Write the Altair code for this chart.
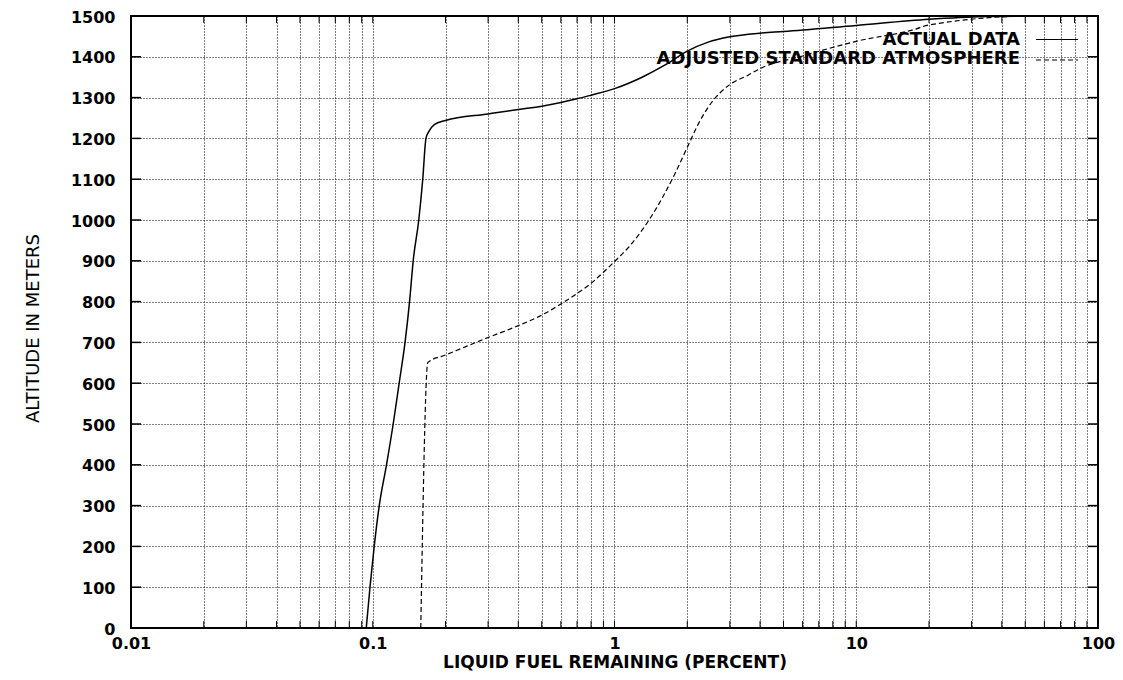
import altair as alt
import pandas as pd

# ---- data ----
actual_x = [0.094, 0.0974, 0.1014, 0.1064, 0.114, 0.1215, 0.1286, 0.136, 0.142, 0.147,
            0.155, 0.161, 0.166, 0.1703, 0.1797, 0.2, 0.3, 0.4, 0.5, 0.6, 0.7, 0.8,
            1.0, 1.3, 1.62, 2.0, 2.44, 3.0, 4.0, 5.0, 10.0, 20.0, 35.0, 100.0]
actual_y = [0, 100, 200, 300, 400, 500, 600, 700, 800, 900,
            1000, 1100, 1200, 1216, 1234, 1244, 1260, 1271, 1279, 1288, 1297, 1306,
            1322, 1350, 1380, 1414, 1436, 1449, 1458, 1462, 1477, 1492, 1499, 1500]

adjusted_x = [0.158, 0.169, 0.2, 0.3, 0.4, 0.5, 0.6, 0.7, 0.8, 0.9, 1.0, 1.15, 1.3, 1.4,
              1.78, 2.0, 2.22, 2.52, 3.0, 3.57, 4.0, 6.0, 10.0, 17.4, 20.0, 54.0, 100.0]
adjusted_y = [0, 651, 669, 712, 741, 767, 794, 820, 845, 872, 898, 935, 975, 1003,
              1114, 1178, 1235, 1288, 1332, 1355, 1371, 1402, 1438, 1467, 1478, 1500, 1500]

x_tick_values = [m * 10.0 ** e for e in range(-2, 2) for m in range(1, 10)] + [100.0]
y_tick_values = list(range(0, 1600, 100))
legend_labels = ["ACTUAL DATA", "ADJUSTED STANDARD ATMOSPHERE"]

W, H = 967, 612
FONT = "DejaVu Sans"

actual_df = pd.DataFrame({"x": actual_x, "y": actual_y})
adjusted_df = pd.DataFrame({"x": adjusted_x, "y": adjusted_y})
xt_df = pd.DataFrame({"x": x_tick_values})
yt_df = pd.DataFrame({"y": y_tick_values})

xscale = alt.Scale(type="log", domain=[0.01, 100], nice=False)
yscale = alt.Scale(domain=[0, 1500], nice=False, zero=False)

x_axis = alt.Axis(
    values=x_tick_values,
    labelExpr="abs(log(datum.value)/LN10 - round(log(datum.value)/LN10)) < 0.001 ? toString(datum.value) : ''",
    labelOverlap=False, labelFlush=False, ticks=False, domain=False,
    grid=True, gridDash=[1, 2], gridColor="black", gridOpacity=1, gridWidth=1,
    labelFont=FONT, labelFontWeight="bold", labelFontSize=16, labelColor="black",
    labelPadding=7,
    title="LIQUID FUEL REMAINING (PERCENT)", titleFont=FONT, titleFontWeight="bold",
    titleFontSize=17, titleColor="black", titleX=W / 2, titleY=39,
    titleAlign="center", titleBaseline="alphabetic",
)
y_axis = alt.Axis(
    values=y_tick_values, format="d", labelOverlap=False, ticks=False, domain=False,
    grid=True, gridDash=[1, 2], gridColor="black", gridOpacity=1, gridWidth=1,
    labelFont=FONT, labelFontWeight="bold", labelFontSize=16, labelColor="black",
    labelPadding=16, labelBaseline="middle", labelOffset=1,
    title="ALTITUDE IN METERS", titleFont=FONT, titleFontWeight="normal",
    titleFontSize=18, titleColor="black", titleX=-98, titleY=312,
    titleAlign="center", titleBaseline="middle",
)

X = alt.X("x:Q", scale=xscale, axis=x_axis, title="LIQUID FUEL REMAINING (PERCENT)")
Y = alt.Y("y:Q", scale=yscale, axis=y_axis, title="ALTITUDE IN METERS")

actual_line = alt.Chart(actual_df).mark_line(
    color="black", strokeWidth=1.5, interpolate="monotone"
).encode(x=X, y=Y)

adjusted_line = alt.Chart(adjusted_df).mark_line(
    color="black", strokeWidth=1.2, strokeDash=[5, 3], interpolate="monotone"
).encode(x=X, y=Y)

# inward ticks
x_ticks_bottom = alt.Chart(xt_df).mark_rule(color="black", strokeWidth=1).encode(
    x=X, y=alt.value(H), y2=alt.value(H - 7))
x_ticks_top = alt.Chart(xt_df).mark_rule(color="black", strokeWidth=1).encode(
    x=X, y=alt.value(0), y2=alt.value(7))
y_ticks_left = alt.Chart(yt_df).mark_rule(color="black", strokeWidth=1.5).encode(
    y=Y, x=alt.value(0), x2=alt.value(10))
y_ticks_right = alt.Chart(yt_df).mark_rule(color="black", strokeWidth=1.5).encode(
    y=Y, x=alt.value(W - 10), x2=alt.value(W))

# legend
leg1_df = pd.DataFrame({"label": [legend_labels[0]]})
leg2_df = pd.DataFrame({"label": [legend_labels[1]]})
leg_text1 = alt.Chart(leg1_df).mark_text(
    align="right", baseline="middle", font=FONT, fontWeight="bold", fontSize=18, color="black"
).encode(text="label:N", x=alt.value(889), y=alt.value(23.5))
leg_text2 = alt.Chart(leg2_df).mark_text(
    align="right", baseline="middle", font=FONT, fontWeight="bold", fontSize=18, color="black"
).encode(text="label:N", x=alt.value(889), y=alt.value(42.5))
leg_line1 = alt.Chart(leg1_df).mark_rule(color="black", strokeWidth=1.2).encode(
    x=alt.value(905), x2=alt.value(947), y=alt.value(23.5))
leg_line2 = alt.Chart(leg2_df).mark_rule(color="black", strokeWidth=1.2, strokeDash=[5, 3]).encode(
    x=alt.value(905), x2=alt.value(947), y=alt.value(44))

chart = alt.layer(
    actual_line, adjusted_line,
    x_ticks_bottom, x_ticks_top, y_ticks_left, y_ticks_right,
    leg_text1, leg_text2, leg_line1, leg_line2,
).properties(
    width=W, height=H,
    autosize=alt.AutoSizeParams(type="none"),
    padding={"left": 123, "top": 8, "right": 17, "bottom": 44},
    background="white",
).configure_view(stroke="black", strokeWidth=2)

chart.save("out.html", embed_options={"renderer": "svg", "actions": False})
